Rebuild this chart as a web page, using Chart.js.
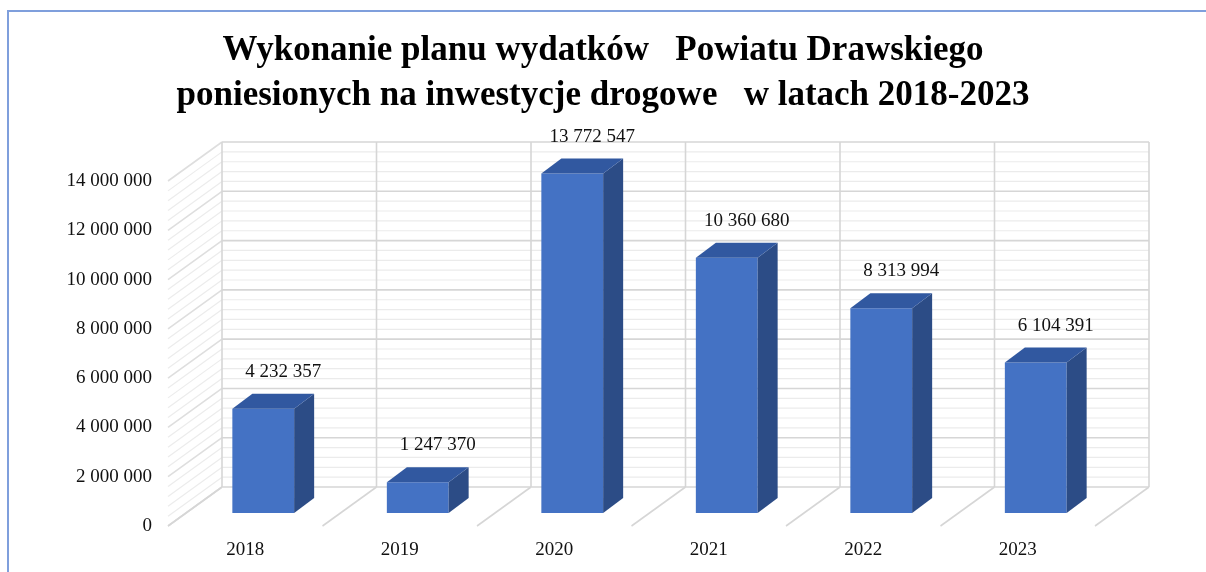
<!DOCTYPE html>
<html>
<head>
<meta charset="utf-8">
<script src="https://cdn.jsdelivr.net/npm/chart.js@4"></script>
<style>
  html, body { margin: 0; padding: 0; background: #fff; }
  #wrap { position: relative; width: 1206px; height: 572px; overflow: hidden; }
  #frame { position: absolute; left: 7px; top: 10px; width: 1210px; height: 580px;
           border-left: 2px solid #7f9fdc; border-top: 2px solid #7f9fdc; }
  canvas { position: absolute; left: 0; top: 0; }
</style>
</head>
<body>
<div id="wrap">
  <canvas id="wykres" width="1206" height="572"></canvas>
  <div id="frame"></div>
</div>
<script>
var lata = ['2018', '2019', '2020', '2021', '2022', '2023'];
var wydatki = [4232357, 1247370, 13772547, 10360680, 8313994, 6104391];
var osYMax = 14000000;
var osYKrok = 2000000;

var font = "'Liberation Serif', 'Times New Roman', serif";

function formatuj(v) {
    return String(Math.round(v)).replace(/\B(?=(\d{3})+(?!\d))/g, ' ');
}

// przesuniecia "glebi" wykresu 3D wzgledem plaszczyzny slupkow
var TYL = { x: 36, y: -26 };
var PRZOD = { x: -18, y: 13 };
var SLUPEK = { x: 20, y: -15 };

var scianyPlugin = {
    id: 'sciany',
    beforeDatasetsDraw: function(chart) {
        var ctx = chart.ctx;
        var ys = chart.scales.y;
        var a = chart.chartArea;
        var n = lata.length;
        var granice = [];
        for (var i = 0; i <= n; i++) {
            granice.push(a.left + (a.right - a.left) * i / n);
        }
        ctx.save();
        // siatka na scianie tylnej i bocznej
        for (var v = 0; v <= osYMax; v += osYKrok / 5) {
            var y = ys.getPixelForValue(v);
            var glowna = v % osYKrok === 0;
            ctx.strokeStyle = glowna ? '#d6d6d6' : '#ebebeb';
            ctx.lineWidth = glowna ? 1.6 : 1.2;
            ctx.beginPath();
            ctx.moveTo(a.left + TYL.x, y + TYL.y);
            ctx.lineTo(a.right + TYL.x, y + TYL.y);
            ctx.stroke();
            ctx.strokeStyle = glowna ? '#dedede' : '#ececec';
            ctx.beginPath();
            ctx.moveTo(a.left + PRZOD.x, y + PRZOD.y);
            ctx.lineTo(a.left + TYL.x, y + TYL.y);
            ctx.stroke();
        }
        // podzialy kategorii i linie podlogi
        var yGora = ys.getPixelForValue(osYMax);
        var yDol = ys.getPixelForValue(0);
        ctx.strokeStyle = '#d6d6d6';
        ctx.lineWidth = 1.6;
        granice.forEach(function(x) {
            ctx.beginPath();
            ctx.moveTo(x + TYL.x, yGora + TYL.y);
            ctx.lineTo(x + TYL.x, yDol + TYL.y);
            ctx.stroke();
            ctx.beginPath();
            ctx.moveTo(x + PRZOD.x, yDol + PRZOD.y);
            ctx.lineTo(x + TYL.x, yDol + TYL.y);
            ctx.stroke();
        });
        ctx.restore();
    },
    afterDatasetsDraw: function(chart) {
        var ctx = chart.ctx;
        var meta = chart.getDatasetMeta(0);
        ctx.save();
        meta.data.forEach(function(bar, i) {
            var p = bar.getProps(['x', 'y', 'base', 'width'], true);
            var l = p.x - p.width / 2, r = p.x + p.width / 2;
            // bok slupka
            ctx.fillStyle = '#2c4c86';
            ctx.beginPath();
            ctx.moveTo(r, p.y);
            ctx.lineTo(r + SLUPEK.x, p.y + SLUPEK.y);
            ctx.lineTo(r + SLUPEK.x, p.base + SLUPEK.y);
            ctx.lineTo(r, p.base);
            ctx.closePath();
            ctx.fill();
            // gora slupka
            ctx.fillStyle = '#3158a0';
            ctx.beginPath();
            ctx.moveTo(l, p.y);
            ctx.lineTo(l + SLUPEK.x, p.y + SLUPEK.y);
            ctx.lineTo(r + SLUPEK.x, p.y + SLUPEK.y);
            ctx.lineTo(r, p.y);
            ctx.closePath();
            ctx.fill();
            // etykieta wartosci
            ctx.fillStyle = '#111';
            ctx.font = '19px ' + font;
            ctx.textAlign = 'center';
            ctx.textBaseline = 'middle';
            ctx.fillText(formatuj(wydatki[i]), p.x + 20, p.y - 37);
        });
        ctx.restore();
    }
};

new Chart(document.getElementById('wykres'), {
    type: 'bar',
    data: {
        labels: lata,
        datasets: [{
            data: wydatki,
            backgroundColor: '#4472c4',
            borderWidth: 0,
            barPercentage: 0.4,
            categoryPercentage: 1
        }]
    },
    options: {
        responsive: false,
        animation: false,
        layout: { padding: 0 },
        plugins: {
            legend: { display: false },
            tooltip: { enabled: false },
            title: {
                display: true,
                text: ['Wykonanie planu wydatków   Powiatu Drawskiego',
                       'poniesionych na inwestycje drogowe   w latach 2018-2023'],
                color: '#000',
                font: { family: font, size: 35, weight: 'bold', lineHeight: 1.286 },
                padding: { top: 28, bottom: 50 }
            }
        },
        scales: {
            x: {
                grid: { display: false, drawTicks: false },
                border: { display: false },
                ticks: { color: '#111', font: { family: font, size: 19 }, padding: 26, labelOffset: -18 },
                afterFit: function(scale) { scale.height = 59; }
            },
            y: {
                min: 0,
                max: osYMax,
                grid: { display: false, drawTicks: false },
                border: { display: false },
                ticks: {
                    stepSize: osYKrok,
                    color: '#111',
                    font: { family: font, size: 19 },
                    padding: 34,
                    labelOffset: 13,
                    callback: function(v) { return formatuj(v); }
                },
                afterFit: function(scale) { scale.width = 186; }
            },
            y2: {
                position: 'right',
                grid: { display: false, drawTicks: false },
                border: { display: false },
                ticks: { display: false },
                afterFit: function(scale) { scale.width = 93; }
            }
        }
    },
    plugins: [scianyPlugin]
});
</script>
</body>
</html>
